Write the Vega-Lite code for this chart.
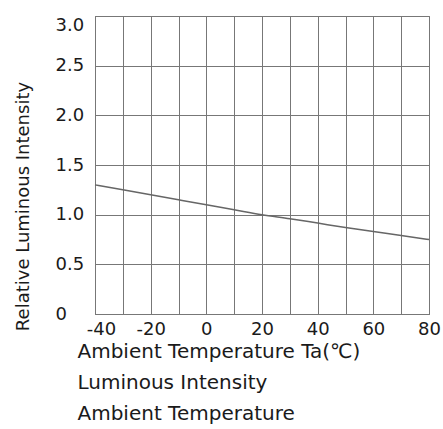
{
  "$schema": "https://vega.github.io/schema/vega-lite/v6.json",
  "autosize": {"type": "none"},
  "width": 334,
  "height": 298,
  "padding": {"left": 95, "top": 16, "right": 14, "bottom": 115},
  "background": "white",
  "config": {"view": {"stroke": "#777", "strokeWidth": 1}},
  "data": {"values": [
    {"t": -40, "r": 1.30},
    {"t": -30, "r": 1.25},
    {"t": -20, "r": 1.20},
    {"t": -10, "r": 1.15},
    {"t": 0, "r": 1.10},
    {"t": 10, "r": 1.05},
    {"t": 20, "r": 1.00},
    {"t": 30, "r": 0.96},
    {"t": 40, "r": 0.915},
    {"t": 50, "r": 0.87},
    {"t": 60, "r": 0.83},
    {"t": 70, "r": 0.79},
    {"t": 80, "r": 0.75}
  ]},
  "mark": {"type": "line", "color": "#666", "strokeWidth": 1.5, "interpolate": "monotone"},
  "encoding": {
    "x": {
      "field": "t", "type": "quantitative",
      "scale": {"domain": [-40, 80], "nice": false, "zero": false},
      "axis": {
        "values": [-40, -30, -20, -10, 0, 10, 20, 30, 40, 50, 60, 70, 80],
        "labelExpr": "datum.value % 20 == 0 ? '' + datum.value : ''",
        "labelOffset": {"condition": {"test": "datum.value == -40", "value": 6}, "value": 0},
        "grid": true, "gridColor": "#777", "gridOpacity": 1, "gridWidth": 1,
        "domainColor": "#777", "ticks": false,
        "labelFont": "DejaVu Sans", "labelFontSize": 18, "labelColor": "#1a1a1a",
        "labelPadding": 6, "labelFlush": false, "labelOverlap": false,
        "title": ["Ambient Temperature Ta(\u2103)", "Luminous Intensity", "Ambient Temperature"],
        "titleFont": "DejaVu Sans", "titleFontSize": 20, "titleFontWeight": "normal",
        "titleColor": "#1a1a1a", "titleLineHeight": 31,
        "titleAnchor": "start", "titleAlign": "left", "titleX": -18, "titleY": 43, "titleBaseline": "alphabetic"
      }
    },
    "y": {
      "field": "r", "type": "quantitative",
      "scale": {"domain": [0, 3], "nice": false},
      "axis": {
        "values": [0, 0.5, 1, 1.5, 2, 2.5, 3],
        "labelExpr": "datum.value == 0 ? '0' : format(datum.value, '.1f')",
        "grid": true, "gridColor": "#777", "gridOpacity": 1, "gridWidth": 1,
        "domainColor": "#777", "ticks": false,
        "labelFont": "DejaVu Sans", "labelFontSize": 18, "labelColor": "#1a1a1a",
        "labelAlign": "left", "labelPadding": 40,
        "labelBaseline": {"condition": {"test": "datum.value == 3", "value": "top"}, "value": "middle"},
        "labelFlush": false, "labelOverlap": false,
        "title": "Relative Luminous Intensity",
        "titleFont": "DejaVu Sans", "titleFontSize": 18, "titleFontWeight": "normal",
        "titleColor": "#1a1a1a", "titleAngle": -90, "titleAlign": "center", "titleBaseline": "middle",
        "titleX": -72, "titleY": 190
      }
    }
  }
}
